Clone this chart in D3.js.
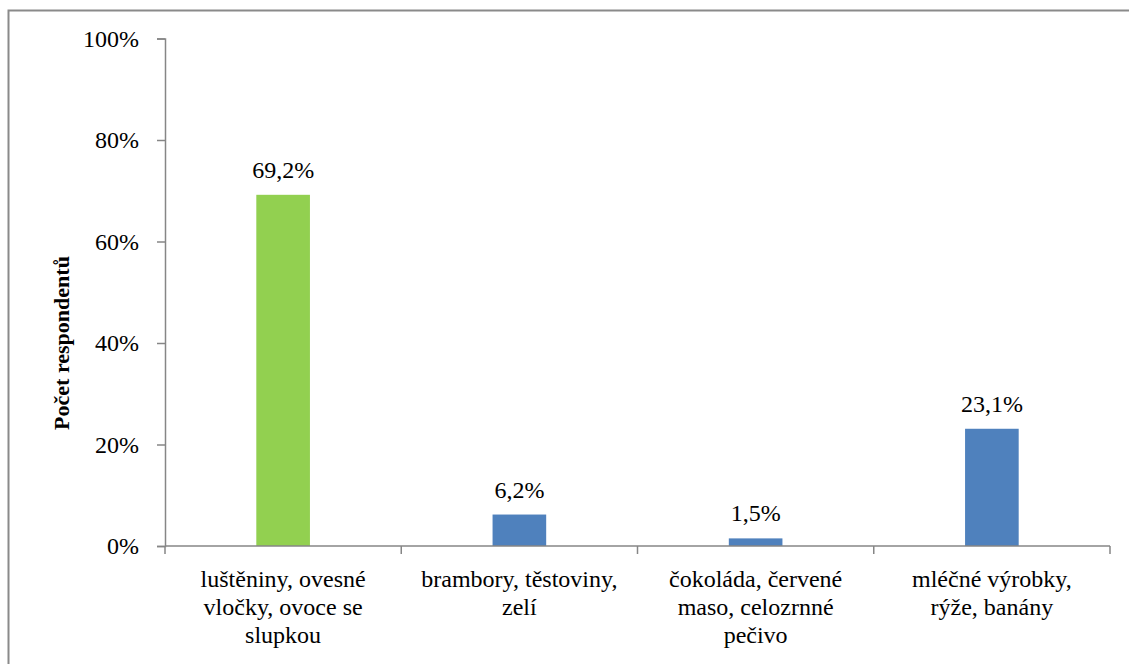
<!DOCTYPE html>
<html>
<head>
<meta charset="utf-8">
<script src="https://cdn.jsdelivr.net/npm/d3@7"></script>
<style>
  html, body { margin: 0; padding: 0; background: #fff; }
  svg { display: block; }
</style>
</head>
<body>
<script>
// Food groups (each label split into its display lines)
const categories = [
  ["luštěniny, ovesné", "vločky, ovoce se", "slupkou"],
  ["brambory, těstoviny,", "zelí"],
  ["čokoláda, červené", "maso, celozrnné", "pečivo"],
  ["mléčné výrobky,", "rýže, banány"]
];
const values = [69.2, 6.2, 1.5, 23.1];
const barColors = ["#92D050", "#4F81BD", "#4F81BD", "#4F81BD"];
const yTicks = [0, 20, 40, 60, 80, 100];
const yTitle = "Počet respondentů";

const FONT = '"Liberation Serif"';
const W = 1129, H = 664;
const margin = { left: 165, right: 19, top: 38.5, bottom: 118 };

const serif = sel => sel.each(function () {
  this.style.setProperty("font-family", FONT, "important");
});

const svg = d3.select("body").append("svg")
  .attr("width", W).attr("height", H);

// outer frame
svg.append("rect")
  .attr("x", 8.5).attr("y", 10.5)
  .attr("width", W + 20).attr("height", H + 20)
  .attr("fill", "none").attr("stroke", "#8a8a8a").attr("stroke-width", 2);

const x = d3.scaleBand()
  .domain(d3.range(categories.length))
  .range([margin.left, W - margin.right]);

const y = d3.scaleLinear()
  .domain([0, 100])
  .range([H - margin.bottom, margin.top]);

const axisColor = "#868686";
const fmt = v => String(v).replace(".", ",") + "%";

// Y axis
const yAxis = svg.append("g")
  .attr("transform", `translate(${margin.left},0)`)
  .call(d3.axisLeft(y).tickValues(yTicks).tickSize(8).tickPadding(18)
    .tickFormat(d => d + "%"));
yAxis.attr("font-family", null).attr("font-size", null);
yAxis.select(".domain").attr("stroke", axisColor).attr("stroke-width", 1.5);
yAxis.selectAll(".tick line").attr("stroke", axisColor).attr("stroke-width", 1.5);
yAxis.selectAll(".tick text")
  .attr("font-size", 24).attr("fill", "#000").call(serif);

// Bars
const barW = x.bandwidth() * 0.227;
svg.append("g").selectAll("rect")
  .data(values)
  .join("rect")
  .attr("x", (d, i) => x(i) + x.bandwidth() / 2 - barW / 2)
  .attr("y", d => y(d))
  .attr("width", barW)
  .attr("height", d => y(0) - y(d))
  .attr("fill", (d, i) => barColors[i]);

// X axis line with boundary tick marks between categories
const xAxis = svg.append("g")
  .attr("transform", `translate(0,${y(0)})`);
xAxis.append("line")
  .attr("x1", x.range()[0]).attr("x2", x.range()[1])
  .attr("stroke", axisColor).attr("stroke-width", 1.5);
const bounds = d3.range(categories.length + 1).map(i =>
  i < categories.length ? x(i) : x(categories.length - 1) + x.bandwidth());
xAxis.selectAll("line.bt")
  .data(bounds)
  .join("line")
  .attr("class", "bt")
  .attr("x1", d => d).attr("x2", d => d)
  .attr("y1", 0).attr("y2", 8)
  .attr("stroke", axisColor).attr("stroke-width", 1.5);

// Category labels
const catG = svg.append("g");
categories.forEach((lines, i) => {
  const cx = x(i) + x.bandwidth() / 2;
  const t = catG.append("text")
    .attr("text-anchor", "middle")
    .attr("font-size", 24)
    .attr("x", cx)
    .attr("y", y(0) + 41)
    .call(serif);
  lines.forEach((ln, j) => {
    t.append("tspan")
      .attr("x", cx)
      .attr("dy", j === 0 ? 0 : 28)
      .text(ln);
  });
});

// Value labels
svg.append("g").selectAll("text")
  .data(values)
  .join("text")
  .attr("text-anchor", "middle")
  .attr("font-size", 24)
  .attr("x", (d, i) => x(i) + x.bandwidth() / 2)
  .attr("y", d => y(d) - 17)
  .text(d => fmt(d))
  .call(serif);

// Y axis title
svg.append("text")
  .attr("transform", `translate(69,343) rotate(-90)`)
  .attr("text-anchor", "middle")
  .attr("font-size", 22).attr("font-weight", "bold")
  .text(yTitle)
  .call(serif);
</script>
</body>
</html>
